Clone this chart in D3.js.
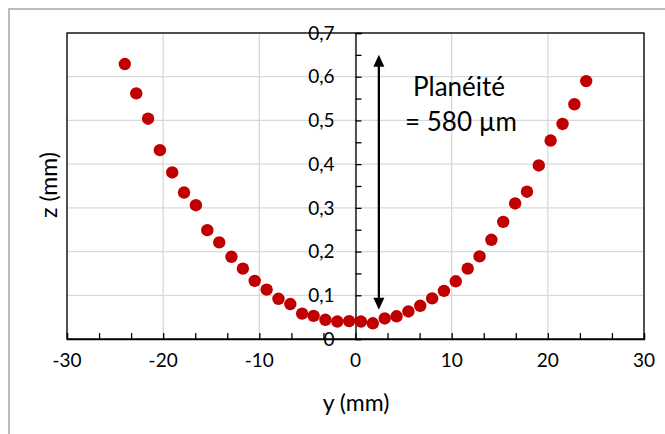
<!DOCTYPE html>
<html><head><meta charset="utf-8">
<script src="https://cdn.jsdelivr.net/npm/d3@7"></script>
<style>html,body{margin:0;padding:0;background:#fff}svg{display:block}</style>
</head><body>
<svg id="c" width="665" height="434"></svg>
<script>
const yPos = [-23.99,-22.80,-21.57,-20.34,-19.06,-17.83,-16.60,-15.41,-14.17,-12.90,-11.71,-10.48,-9.24,-8.01,-6.78,-5.55,-4.36,-3.13,-1.89,-0.66,0.57,1.80,3.04,4.27,5.50,6.73,7.97,9.20,10.43,11.67,12.90,14.13,15.36,16.60,17.83,19.06,20.29,21.53,22.76,23.99];
const zVal = [0.629,0.562,0.504,0.432,0.381,0.335,0.306,0.249,0.221,0.188,0.161,0.133,0.113,0.092,0.080,0.058,0.053,0.044,0.040,0.041,0.040,0.036,0.047,0.052,0.063,0.076,0.093,0.110,0.132,0.161,0.189,0.227,0.268,0.310,0.337,0.397,0.454,0.492,0.537,0.590];
const xTicks = [-30,-20,-10,0,10,20,30];
const xMinorTicks = d3.range(-30, 30.01, 10/3);
const zTicks = [0,0.1,0.2,0.3,0.4,0.5,0.6,0.7];
const zMinorTicks = d3.range(0, 0.701, 0.05);
const zTickLabels = ["0","0,1","0,2","0,3","0,4","0,5","0,6","0,7"];
const arrowRange = [0.067, 0.65];
const arrowAt = 2.43;
const annotation = ["Planéité", "= 580 µm"];

const svg = d3.select("#c");
const font = "Lato, 'Open Sans', sans-serif";
const x = d3.scaleLinear().domain([-30,30]).range([67,644]);
const y = d3.scaleLinear().domain([0,0.7]).range([339,33]);

// outer chart border
svg.append("rect").attr("x",9).attr("y",9).attr("width",700).attr("height",500)
  .attr("fill","none").attr("stroke","#a6a6a6").attr("stroke-width",1.5);

// gridlines
const g = svg.append("g");
g.selectAll("line.hg").data(zTicks).join("line")
  .attr("x1",x(-30)).attr("x2",x(30)).attr("y1",d=>y(d)).attr("y2",d=>y(d))
  .attr("stroke","#d9d9d9").attr("stroke-width",1.3);
g.selectAll("line.vg").data(xTicks).join("line")
  .attr("y1",y(0)).attr("y2",y(0.7)).attr("x1",d=>x(d)).attr("x2",d=>x(d))
  .attr("stroke","#d9d9d9").attr("stroke-width",1.3);

// plot frame
svg.append("rect").attr("x",x(-30)).attr("y",y(0.7)).attr("width",x(30)-x(-30)).attr("height",y(0)-y(0.7))
  .attr("fill","none").attr("stroke","#000").attr("stroke-width",1.3);

// x axis (bottom line with inward ticks)
const xa = svg.append("g").attr("transform",`translate(0,${y(0)})`)
  .call(d3.axisTop(x).tickValues(xMinorTicks).tickSize(6).tickFormat(""));
xa.selectAll("path,line").attr("stroke","#000").attr("stroke-width",1.3);

// y axis at x=0
const ya = svg.append("g").attr("transform",`translate(${x(0)},0)`)
  .call(d3.axisRight(y).tickValues(zMinorTicks).tickSize(6).tickFormat(""));
ya.selectAll("path,line").attr("stroke","#000").attr("stroke-width",1.3);

// y tick labels
svg.selectAll("text.zt").data(zTicks).join("text")
  .attr("x",x(0)-21).attr("y",d=>y(d)).attr("dy","0.35em")
  .attr("text-anchor","end").attr("font-family",font).attr("font-size",19).attr("fill","#000")
  .text((d,i)=>zTickLabels[i]);

// x tick labels
svg.selectAll("text.xt").data(xTicks).join("text")
  .attr("x",d=>x(d)).attr("y",367).attr("text-anchor","middle")
  .attr("font-family",font).attr("font-size",19).attr("fill","#000")
  .text(d=>d);

// axis titles
svg.append("text").attr("x",356).attr("y",411).attr("text-anchor","middle")
  .attr("font-family",font).attr("font-size",23).attr("fill","#000").text("y (mm)");
svg.append("text").attr("transform","translate(57,185) rotate(-90)").attr("text-anchor","middle")
  .attr("font-family",font).attr("font-size",23).attr("fill","#000").text("z (mm)");

// points
svg.append("g").selectAll("circle").data(yPos).join("circle")
  .attr("cx",d=>x(d)).attr("cy",(d,i)=>y(zVal[i])).attr("r",6.2).attr("fill","#c00000");

// double arrow
const ax = x(arrowAt), aTop = y(arrowRange[1]), aBot = y(arrowRange[0]);
svg.append("line").attr("x1",ax).attr("x2",ax).attr("y1",aTop+8).attr("y2",aBot-8)
  .attr("stroke","#000").attr("stroke-width",2.3);
svg.append("path").attr("d",`M${ax},${aTop} L${ax-5.5},${aTop+12} L${ax+5.5},${aTop+12} Z`).attr("fill","#000");
svg.append("path").attr("d",`M${ax},${aBot} L${ax-5.5},${aBot-12} L${ax+5.5},${aBot-12} Z`).attr("fill","#000");

// annotation
svg.append("text").attr("x",459).attr("y",96).attr("text-anchor","middle")
  .attr("font-family",font).attr("font-size",26).attr("fill","#000").text(annotation[0]);
svg.append("text").attr("x",461).attr("y",131).attr("text-anchor","middle")
  .attr("font-family",font).attr("font-size",26).attr("fill","#000").text(annotation[1]);
</script>
</body></html>
